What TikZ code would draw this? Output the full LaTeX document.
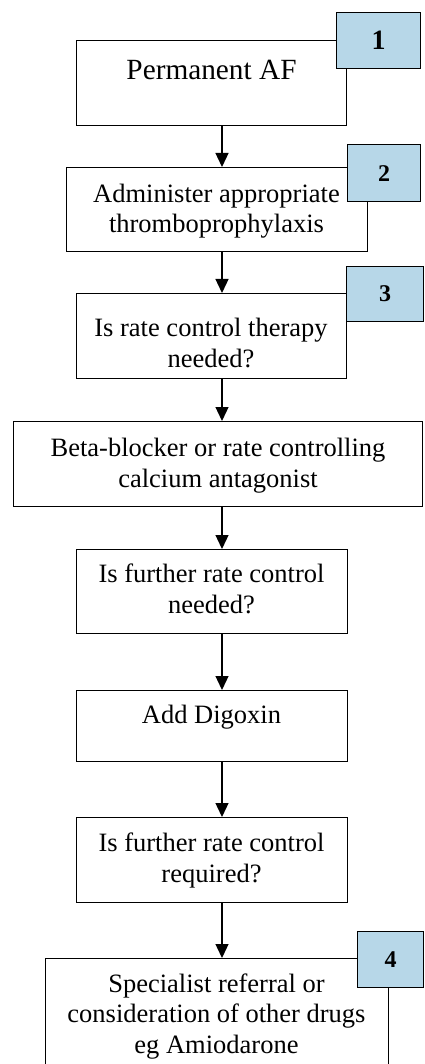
\documentclass[tikz,border=0pt]{standalone}
\usepackage{fontspec}
\setmainfont{Liberation Serif}
\usetikzlibrary{arrows.meta}
\definecolor{badgeblue}{RGB}{183,215,232}
\tikzset{
  boxshape/.style={draw=black, line width=1.3pt, fill=white, rectangle, inner sep=0pt},
  boxtext/.style={align=center, anchor=base, inner sep=0pt, font=\fontsize{26.5}{30.5}\selectfont},
  badge/.style={draw=black, line width=1.3pt, fill=badgeblue, rectangle, inner sep=0pt, font=\fontsize{24}{26}\selectfont\bfseries},
  arr/.style={line width=1.3pt, -{Triangle[width=13pt,length=14pt]}}
}
\begin{document}
\begin{tikzpicture}[x=1pt,y=-1pt]
\useasboundingbox (0,0) rectangle (424,1064);
\clip (0,0) rectangle (424,1064);
\coordinate (ax) at (222,0);
% boxes
\node[boxshape, minimum width=270pt, minimum height=85pt, anchor=north west] (b1) at (76,40) {};
\node[boxshape, minimum width=301pt, minimum height=84pt, anchor=north west] (b2) at (66,167) {};
\node[boxshape, minimum width=270pt, minimum height=85pt, anchor=north west] (b3) at (76,293) {};
\node[boxshape, minimum width=409pt, minimum height=85pt, anchor=north west] (b4) at (13,421) {};
\node[boxshape, minimum width=271pt, minimum height=84pt, anchor=north west] (b5) at (76,549) {};
\node[boxshape, minimum width=271pt, minimum height=71pt, anchor=north west] (b6) at (76,690) {};
\node[boxshape, minimum width=271pt, minimum height=85pt, anchor=north west] (b7) at (76,817) {};
\node[boxshape, minimum width=343pt, minimum height=120pt, anchor=north west] (b8) at (45,958) {};
% texts (base anchor = baseline of last line)
\node[boxtext, font=\fontsize{29.3}{33}\selectfont] (t1) at (211.5,79.3) {Permanent AF};
\node[boxtext] (t2) at (216.5,233) {Administer appropriate\\thromboprophylaxis};
\node[boxtext] (t3) at (211,367) {Is rate control therapy\\needed?};
\node[boxtext] (t4) at (218,487) {Beta-blocker or rate controlling\\calcium antagonist};
\node[boxtext] (t5) at (211.5,613) {Is further rate control\\needed?};
\node[boxtext] (t6) at (211.5,723) {Add Digoxin};
\node[boxtext] (t7) at (211.5,882) {Is further rate control\\required?};
\node[boxtext] (t8) at (216.5,1053) {Specialist referral or\\consideration of other drugs\\eg Amiodarone};
% badges
\node[badge, minimum width=84pt, minimum height=56pt, anchor=north west, font=\fontsize{28}{30}\selectfont\bfseries] (n1) at (336,12) {1};
\node[badge, minimum width=73pt, minimum height=57pt, anchor=north west] (n2) at (347,144) {2};
\node[badge, minimum width=77pt, minimum height=55pt, anchor=north west] (n3) at (346,266) {3};
\node[badge, minimum width=66pt, minimum height=56pt, anchor=north west] (n4) at (357,931) {4};
% arrows
\draw[arr] (b1.south -| ax) -- (b2.north -| ax);
\draw[arr] (b2.south -| ax) -- (b3.north -| ax);
\draw[arr] (b3.south -| ax) -- (b4.north -| ax);
\draw[arr] (b4.south -| ax) -- (b5.north -| ax);
\draw[arr] (b5.south -| ax) -- (b6.north -| ax);
\draw[arr] (b6.south -| ax) -- (b7.north -| ax);
\draw[arr] (b7.south -| ax) -- (b8.north -| ax);
\end{tikzpicture}
\end{document}
